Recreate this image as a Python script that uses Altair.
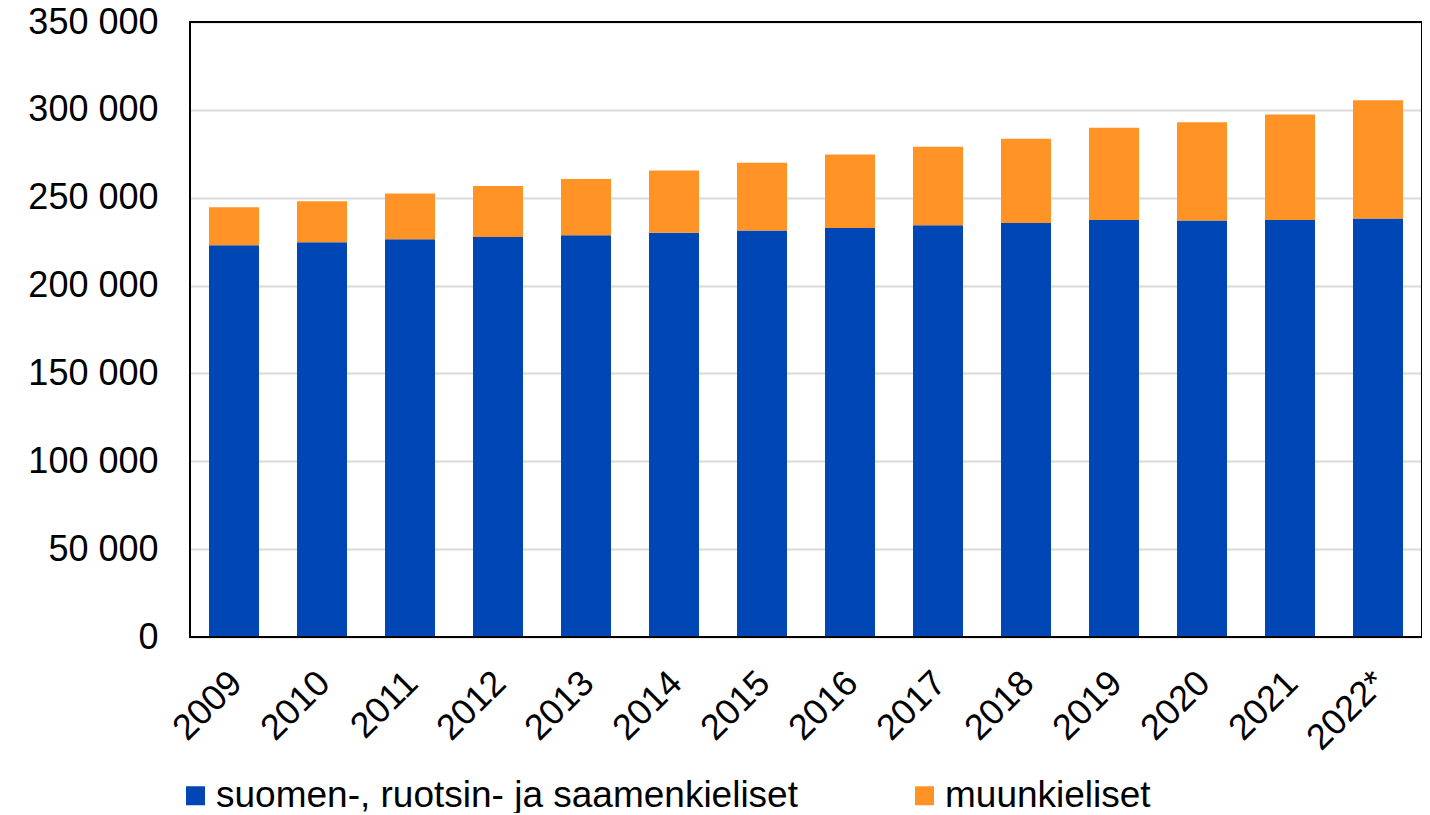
import altair as alt
import pandas as pd

years = ["2009", "2010", "2011", "2012", "2013", "2014", "2015", "2016", "2017", "2018", "2019", "2020", "2021", "2022*"]
kotimaiset = [223000, 224600, 226300, 227600, 228700, 230100, 231300, 232800, 234300, 235600, 237300, 237000, 237300, 238100]
muut = [21600, 23400, 26100, 29100, 32000, 35400, 38600, 41800, 44700, 48000, 52500, 55900, 60000, 67400]
series = ["suomen-, ruotsin- ja saamenkieliset", "muunkieliset"]
colors = ["#0047b5", "#ff9326"]

rows = []
for i, y in enumerate(years):
    rows.append({"vuosi": y, "ryhma": series[0], "arvo": kotimaiset[i], "jarj": 0})
    rows.append({"vuosi": y, "ryhma": series[1], "arvo": muut[i], "jarj": 1})
df = pd.DataFrame(rows)

FONT = "Liberation Sans"
W, H = 1232, 615

bars = alt.Chart(df).mark_bar(size=50).encode(
    x=alt.X("vuosi:N", sort=years, title=None,
            axis=alt.Axis(labelAngle=-45, labelFontSize=36, labelFont=FONT, labelColor="black",
                          ticks=False, domain=False, labelPadding=28, labelOffset=-10)),
    y=alt.Y("arvo:Q", stack="zero", title=None,
            scale=alt.Scale(domain=[0, 350000], nice=False),
            axis=alt.Axis(values=[0, 50000, 100000, 150000, 200000, 250000, 300000, 350000],
                          labelExpr="replace(format(datum.value, ','), ',', ' ')",
                          labelFontSize=36, labelFont=FONT, labelColor="black",
                          ticks=False, domain=False, labelPadding=32,
                          grid=True, gridColor="#d9d9d9", gridWidth=2)),
    color=alt.Color("ryhma:N", sort=series,
                    scale=alt.Scale(domain=series, range=colors),
                    legend=alt.Legend(title=None, orient="none", legendX=-13, legendY=755,
                                      direction="horizontal", symbolType="square", symbolSize=361,
                                      symbolStrokeWidth=0, labelFontSize=37, labelFont=FONT,
                                      labelColor="black", labelOffset=2, columnPadding=108,
                                      labelLimit=1000)),
    order=alt.Order("jarj:Q"),
)

frame = alt.Chart(alt.Data(values=[{}])).mark_rect(
    fillOpacity=0, stroke="black", strokeWidth=2
).encode(
    x=alt.value(0), x2=alt.value(W), y=alt.value(0), y2=alt.value(H)
)

chart = alt.layer(bars, frame).properties(
    width=W, height=H,
    background="white",
    autosize=alt.AutoSizeParams(type="none"),
    padding={"left": 182, "top": 14, "right": 0, "bottom": 176},
).configure_view(
    stroke=None
)

chart.save("out.html", embed_options={"renderer": "svg", "actions": False})
